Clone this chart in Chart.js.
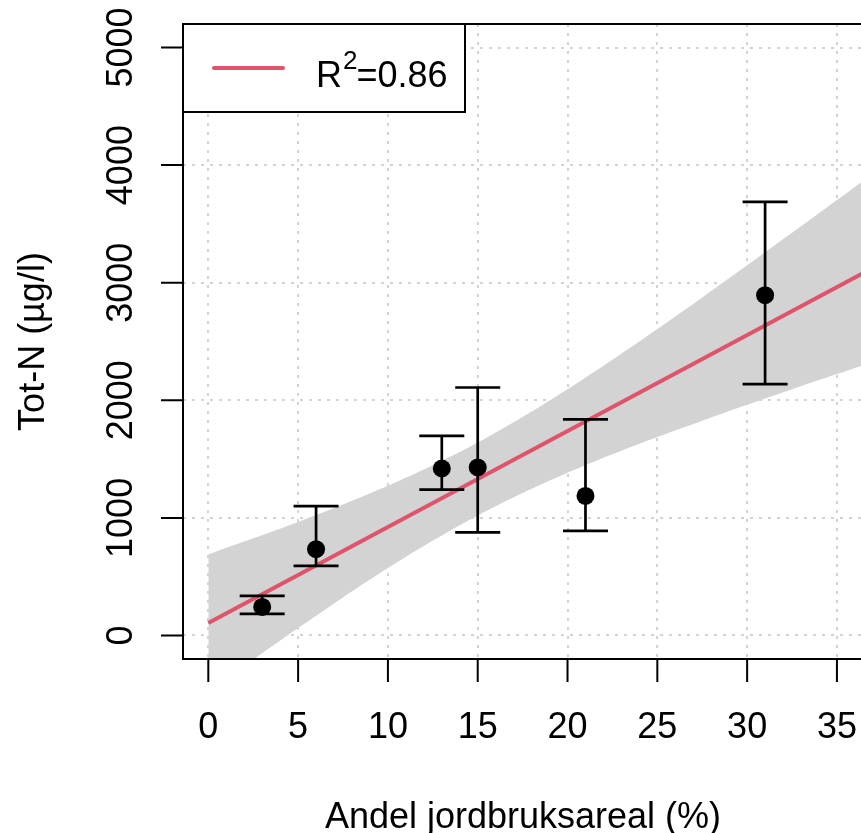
<!DOCTYPE html>
<html>
<head>
<meta charset="utf-8">
<script src="https://cdn.jsdelivr.net/npm/chart.js@4/dist/chart.umd.min.js"></script>
<style>
  html, body { margin: 0; padding: 0; background: #fff; overflow: hidden; }
  #wrap { width: 861px; height: 833px; }
</style>
</head>
<body>
<div id="wrap"><canvas id="chart" width="861" height="833"></canvas></div>
<script>
// --- data ---
const pointX = [3, 6, 13, 15, 21, 31];
const pointY = [243, 734, 1420, 1429, 1187, 2894];
const errLow = [184, 592, 1241, 876, 889, 2137];
const errHigh = [337, 1100, 1697, 2109, 1837, 3687];

// regression line (ends)
const fitX = [0, 37.5];
const fitY = [107, 3167];

// confidence band edges
const bandX = [0, 2.5, 5, 7.5, 10, 12.5, 15, 17.5, 20, 22.5, 25, 27.5, 30, 32.5, 35, 37.5];
const bandHigh = [690, 826, 966, 1114, 1273, 1447, 1641, 1858, 2094, 2345, 2606, 2875, 3148, 3424, 3703, 3983];
const bandLow = [-476, -204, 64, 324, 573, 807, 1021, 1212, 1384, 1541, 1688, 1827, 1962, 2094, 2223, 2351];

const xTicks = [0, 5, 10, 15, 20, 25, 30, 35];
const yTicks = [0, 1000, 2000, 3000, 4000, 5000];

const xTitle = 'Andel jordbruksareal (%)';
const yTitle = 'Tot-N (µg/l)';
const legendMain = 'R';
const legendSup = '2';
const legendRest = '=0.86';

const FONT = '"Liberation Sans", Arial, Helvetica, sans-serif';
const LINE_RED = '#DF536B';
const GREY = '#d3d3d3';

function pairs(xs, ys) {
    return xs.map((x, i) => ({ x: x, y: ys[i] }));
}

// R-ish axes, grid, error bars and legend
const rStyle = {
    id: 'rStyle',
    beforeDatasetsDraw(chart) {
        const { ctx, chartArea: a, scales: { x, y } } = chart;
        ctx.save();
        ctx.beginPath();
        ctx.rect(a.left, a.top, a.right - a.left, a.bottom - a.top);
        ctx.clip();
        ctx.strokeStyle = GREY;
        ctx.lineWidth = 2;
        ctx.setLineDash([3, 6]);
        xTicks.forEach(t => {
            const px = Math.round(x.getPixelForValue(t));
            ctx.beginPath();
            ctx.moveTo(px, a.top);
            ctx.lineTo(px, a.bottom);
            ctx.stroke();
        });
        yTicks.forEach(t => {
            const py = Math.round(y.getPixelForValue(t));
            ctx.beginPath();
            ctx.moveTo(a.left, py);
            ctx.lineTo(a.right, py);
            ctx.stroke();
        });
        ctx.restore();
    },
    afterDatasetsDraw(chart) {
        const { ctx, chartArea: a, scales: { x, y } } = chart;
        ctx.save();

        // error bars
        ctx.strokeStyle = '#000';
        ctx.lineWidth = 2.7;
        pointX.forEach((v, i) => {
            const px = x.getPixelForValue(v);
            const lo = y.getPixelForValue(errLow[i]);
            const hi = y.getPixelForValue(errHigh[i]);
            ctx.beginPath();
            ctx.moveTo(px, lo);
            ctx.lineTo(px, hi);
            ctx.moveTo(px - 22.5, lo);
            ctx.lineTo(px + 22.5, lo);
            ctx.moveTo(px - 22.5, hi);
            ctx.lineTo(px + 22.5, hi);
            ctx.stroke();
        });

        // box (left, bottom, top)
        ctx.lineWidth = 2;
        ctx.beginPath();
        ctx.moveTo(a.right + 2, a.top);
        ctx.lineTo(a.left, a.top);
        ctx.lineTo(a.left, a.bottom);
        ctx.lineTo(a.right + 2, a.bottom);
        ctx.stroke();

        // ticks
        ctx.beginPath();
        xTicks.forEach(t => {
            const px = x.getPixelForValue(t);
            ctx.moveTo(px, a.bottom);
            ctx.lineTo(px, a.bottom + 23);
        });
        yTicks.forEach(t => {
            const py = y.getPixelForValue(t);
            ctx.moveTo(a.left, py);
            ctx.lineTo(a.left - 22, py);
        });
        ctx.stroke();

        // tick labels
        ctx.fillStyle = '#000';
        ctx.font = '36px ' + FONT;
        ctx.textAlign = 'center';
        ctx.textBaseline = 'alphabetic';
        xTicks.forEach(t => {
            ctx.fillText(String(t), x.getPixelForValue(t), 738);
        });
        yTicks.forEach(t => {
            ctx.save();
            ctx.translate(131.5, y.getPixelForValue(t));
            ctx.rotate(-Math.PI / 2);
            ctx.fillText(String(t), 0, 0);
            ctx.restore();
        });

        // axis titles
        ctx.fillText(xTitle, 523, 828);
        ctx.save();
        ctx.translate(43.5, (a.top + a.bottom) / 2);
        ctx.rotate(-Math.PI / 2);
        ctx.fillText(yTitle, 0, 0);
        ctx.restore();

        // legend
        ctx.fillStyle = '#fff';
        ctx.fillRect(a.left, a.top, 282, 88);
        ctx.strokeStyle = '#000';
        ctx.lineWidth = 2;
        ctx.strokeRect(a.left, a.top, 282, 88);
        ctx.strokeStyle = LINE_RED;
        ctx.lineWidth = 4;
        ctx.lineCap = 'round';
        ctx.beginPath();
        ctx.moveTo(a.left + 31, a.top + 44);
        ctx.lineTo(a.left + 100, a.top + 44);
        ctx.stroke();
        ctx.fillStyle = '#000';
        ctx.textAlign = 'left';
        ctx.font = '36px ' + FONT;
        let tx = 316;
        ctx.fillText(legendMain, tx, 87);
        tx += ctx.measureText(legendMain).width + 1;
        ctx.font = '26px ' + FONT;
        ctx.fillText(legendSup, tx, 69);
        tx += ctx.measureText(legendSup).width - 1;
        ctx.font = '36px ' + FONT;
        ctx.fillText(legendRest, tx, 87);

        ctx.restore();
    }
};

new Chart(document.getElementById('chart'), {
    type: 'scatter',
    data: {
        datasets: [
            {
                // band upper edge, filled down to the next dataset
                type: 'line',
                order: 3,
                data: pairs(bandX, bandHigh),
                borderWidth: 0,
                borderColor: 'rgba(0,0,0,0)',
                backgroundColor: GREY,
                pointRadius: 0,
                fill: '+1',
                tension: 0.3
            },
            {
                type: 'line',
                order: 3,
                data: pairs(bandX, bandLow),
                borderWidth: 0,
                borderColor: 'rgba(0,0,0,0)',
                pointRadius: 0,
                fill: false,
                tension: 0.3
            },
            {
                type: 'line',
                order: 2,
                data: pairs(fitX, fitY),
                borderColor: LINE_RED,
                borderWidth: 4,
                pointRadius: 0,
                fill: false
            },
            {
                order: 1,
                data: pairs(pointX, pointY),
                backgroundColor: '#000',
                borderWidth: 0,
                pointRadius: 9
            }
        ]
    },
    options: {
        responsive: false,
        animation: false,
        devicePixelRatio: 1,
        layout: { autoPadding: false, padding: { left: 183, right: 0, top: 24, bottom: 174 } },
        plugins: { legend: { display: false }, tooltip: { enabled: false } },
        scales: {
            x: { type: 'linear', min: -1.409, max: 36.34, display: false },
            y: { type: 'linear', min: -200, max: 5200, display: false }
        }
    },
    plugins: [rStyle]
});
</script>
</body>
</html>
